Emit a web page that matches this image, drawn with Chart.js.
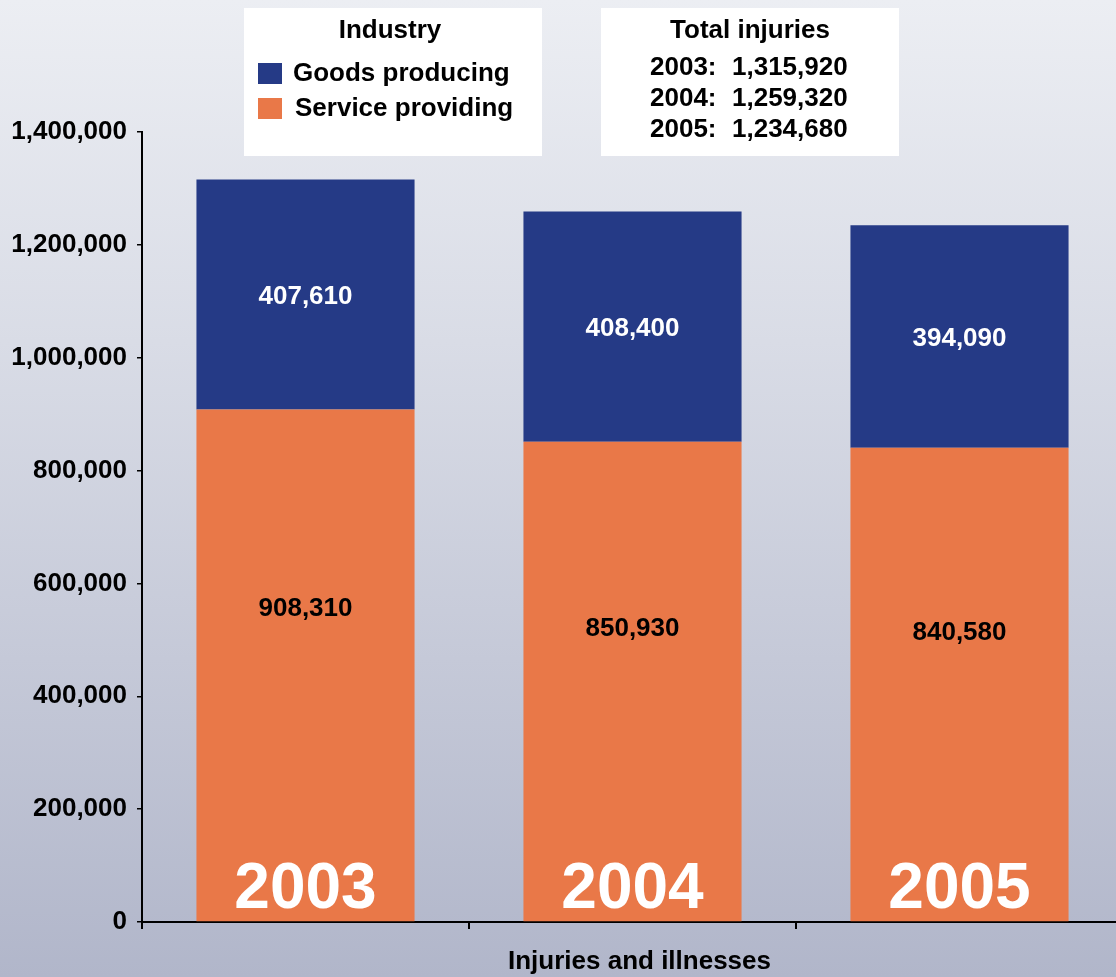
<!DOCTYPE html>
<html>
<head>
<meta charset="utf-8">
<script src="https://cdn.jsdelivr.net/npm/chart.js@4/dist/chart.umd.min.js"></script>
<style>
  html, body { margin: 0; padding: 0; overflow: hidden; width: 1116px; height: 977px; }
  body { background: linear-gradient(to bottom, #eceef3 0%, #d9dce6 35%, #b1b6ca 100%); }
  #wrap { position: relative; width: 1124px; height: 977px; }
  canvas { display: block; }
</style>
</head>
<body>
<div id="wrap"><canvas id="c" width="1124" height="977"></canvas></div>
<script>
// ---- data ----
const years = ['2003', '2004', '2005'];
const goodsProducing = [407610, 408400, 394090];
const serviceProviding = [908310, 850930, 840580];
const totalInjuries = [1315920, 1259320, 1234680];
const yTicks = [0, 200000, 400000, 600000, 800000, 1000000, 1200000, 1400000];
const legendTitle = 'Industry';
const totalsTitle = 'Total injuries';
const xTitle = 'Injuries and illnesses';

const NAVY = '#253a86';
const ORANGE = '#e97848';
const FONT = '"Liberation Sans", Arial, sans-serif';
const fmt = v => v.toLocaleString('en-US');

const labelsPlugin = {
  id: 'labelsPlugin',
  afterDatasetsDraw(chart) {
    const ctx = chart.ctx;
    const yScale = chart.scales.y;
    ctx.save();
    ctx.textAlign = 'center';
    ctx.textBaseline = 'alphabetic';
    const m0 = chart.getDatasetMeta(0);
    m0.data.forEach((bar, i) => {
      const base = bar.base, top = bar.y;
      const cy = base - (base - top) * 0.614;
      ctx.font = 'bold 26px ' + FONT;
      ctx.fillStyle = '#000';
      ctx.fillText(fmt(chart.data.datasets[0].data[i]), bar.x, cy + 26 * 0.358);
      ctx.font = 'bold 64px ' + FONT;
      ctx.fillStyle = '#fff';
      ctx.fillText(chart.data.labels[i], bar.x, yScale.getPixelForValue(0) - 14);
    });
    const m1 = chart.getDatasetMeta(1);
    m1.data.forEach((bar, i) => {
      const cy = (bar.base + bar.y) / 2;
      ctx.font = 'bold 26px ' + FONT;
      ctx.fillStyle = '#fff';
      ctx.fillText(fmt(chart.data.datasets[1].data[i]), bar.x, cy + 26 * 0.358);
    });
    ctx.restore();
  },
  afterDraw(chart) {
    const ctx = chart.ctx;
    ctx.save();
    ctx.fillStyle = '#fff';
    ctx.fillRect(244, 8, 298, 148);
    ctx.fillRect(601, 8, 298, 148);
    ctx.fillStyle = '#000';
    ctx.textBaseline = 'middle';
    ctx.font = 'bold 26px ' + FONT;
    ctx.textAlign = 'center';
    ctx.fillText(legendTitle, 390, 31);
    ctx.textAlign = 'left';
    const ds = chart.data.datasets.slice().reverse();
    ds.forEach((d, k) => {
      const y = 73 + k * 35;
      ctx.fillStyle = d.backgroundColor;
      ctx.fillRect(258, y - 10, 24, 21);
      ctx.fillStyle = '#000';
      ctx.fillText(d.label, 293 + k * 2, y + 1);
    });
    ctx.textAlign = 'center';
    ctx.fillText(totalsTitle, 750, 31);
    ctx.textAlign = 'left';
    totalInjuries.forEach((t, i) => {
      const y = 68 + i * 31;
      ctx.fillText(years[i] + ':', 650, y);
      ctx.fillText(fmt(t), 732, y);
    });
    // x axis title
    const area = chart.chartArea;
    ctx.textAlign = 'center';
    ctx.fillText(xTitle, (area.left + area.right) / 2 + 7, 962);
    ctx.restore();
  }
};

new Chart(document.getElementById('c'), {
  type: 'bar',
  data: {
    labels: years,
    datasets: [
      { label: 'Service providing', data: serviceProviding, backgroundColor: ORANGE },
      { label: 'Goods producing', data: goodsProducing, backgroundColor: NAVY }
    ]
  },
  options: {
    responsive: false,
    animation: false,
    devicePixelRatio: 1,
    layout: { padding: { top: 132, right: 1, bottom: 0, left: 0 } },
    datasets: { bar: { categoryPercentage: 1.0, barPercentage: 0.667 } },
    plugins: { legend: { display: false }, tooltip: { enabled: false }, title: { display: false } },
    scales: {
      x: {
        stacked: true,
        offset: true,
        grid: { display: true, drawOnChartArea: false, offset: true, tickLength: 7, color: '#000', lineWidth: 2 },
        border: { display: true, color: '#000', width: 2 },
        ticks: { display: false },
        title: { display: false },
        afterFit(scale) { scale.height = 55; }
      },
      y: {
        stacked: true,
        min: 0,
        max: 1400000,
        afterBuildTicks(scale) { scale.ticks = yTicks.map(v => ({ value: v })); },
        grid: { display: true, drawOnChartArea: false, tickLength: 5, color: '#000', lineWidth: 1.5 },
        border: { display: true, color: '#000', width: 2 },
        ticks: {
          color: '#000',
          padding: 10,
          font: { family: FONT, size: 26, weight: 'bold' },
          callback: v => fmt(v)
        },
        afterFit(scale) { scale.width = 142; }
      }
    }
  },
  plugins: [labelsPlugin]
});
</script>
</body>
</html>
